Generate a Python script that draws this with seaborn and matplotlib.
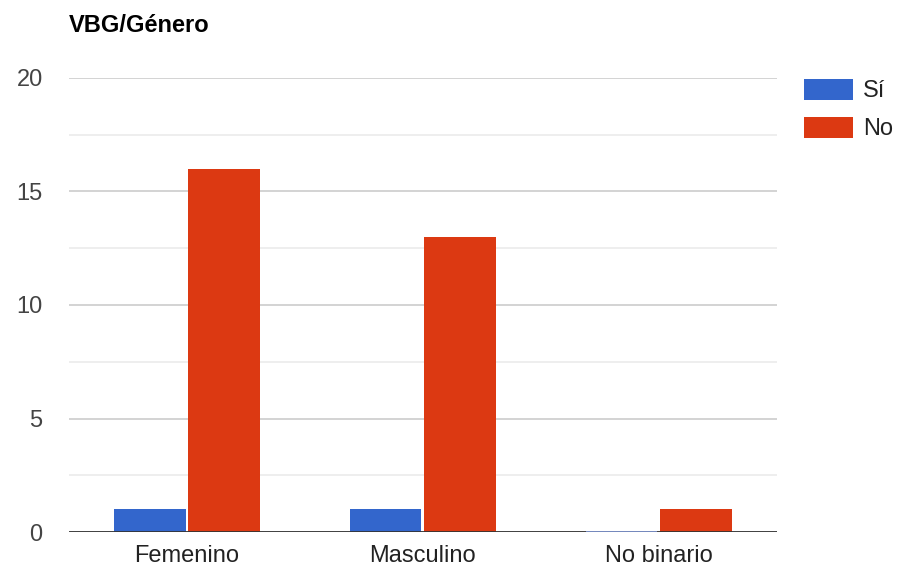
import pandas as pd
import seaborn as sns
import matplotlib.pyplot as plt

# Data
generos = ["Femenino", "Masculino", "No binario"]
respuestas = ["Sí", "No"]
valores_si = [1, 1, 0]
valores_no = [16, 13, 1]

df = pd.DataFrame({
    "genero": generos * 2,
    "respuesta": ["Sí"] * 3 + ["No"] * 3,
    "total": valores_si + valores_no,
})

sns.set_style("white")
plt.rcParams['font.family'] = ['Liberation Sans', 'DejaVu Sans']

fig = plt.figure(figsize=(9.01, 5.71), dpi=100)
ax = fig.add_axes([0.0766, 0.0683, 0.7856, 0.7951])

colores = {"Sí": "#3366cc", "No": "#dc3912"}
sns.barplot(data=df, x="genero", y="total", hue="respuesta", hue_order=respuestas,
            order=generos, palette=colores, width=0.63, gap=0.04,
            linewidth=0, saturation=1, ax=ax, legend=True)

# zero-height bar still shows as a thin line on the baseline
for p in ax.patches:
    if p.get_height() == 0:
        p.set_edgecolor("#7f97d6")
        p.set_linewidth(1.2)
        p.set_zorder(6)

ax.set_ylim(0, 20)
ax.set_yticks([0, 5, 10, 15, 20])
ax.set_yticks([2.5, 7.5, 12.5, 17.5], minor=True)
ax.grid(axis="y", which="major", color="#cccccc", linewidth=1.2)
ax.grid(axis="y", which="minor", color="#ebebeb", linewidth=1.2)
ax.set_axisbelow(True)
ax.axhline(0, color="#333333", linewidth=2, zorder=5)

for s in ax.spines.values():
    s.set_visible(False)

ax.tick_params(axis="y", which="both", length=0, pad=19, labelsize=17, labelcolor="#444444")
ax.tick_params(axis="x", length=0, pad=9, labelsize=17, labelcolor="#222222")
ax.set_xlabel("")
ax.set_ylabel("")

fig.text(69 / 901, 1 - 25 / 571, "VBG/Género", fontsize=17, fontweight="bold",
         color="#000000", va="center", ha="left")

handles, labels = ax.get_legend_handles_labels()
ax.get_legend().remove()
leg = fig.legend(handles, labels, loc="upper left", bbox_to_anchor=(792 / 901, 1 - 67 / 571),
                 frameon=False, fontsize=17, handlelength=2.1, handleheight=1.0,
                 handletextpad=0.4, labelspacing=0.6, labelcolor="#222222", borderpad=0)
for h in leg.legend_handles:
    h.set_edgecolor("none")
    h.set_linewidth(0)

fig.savefig("out.png", dpi=100)
